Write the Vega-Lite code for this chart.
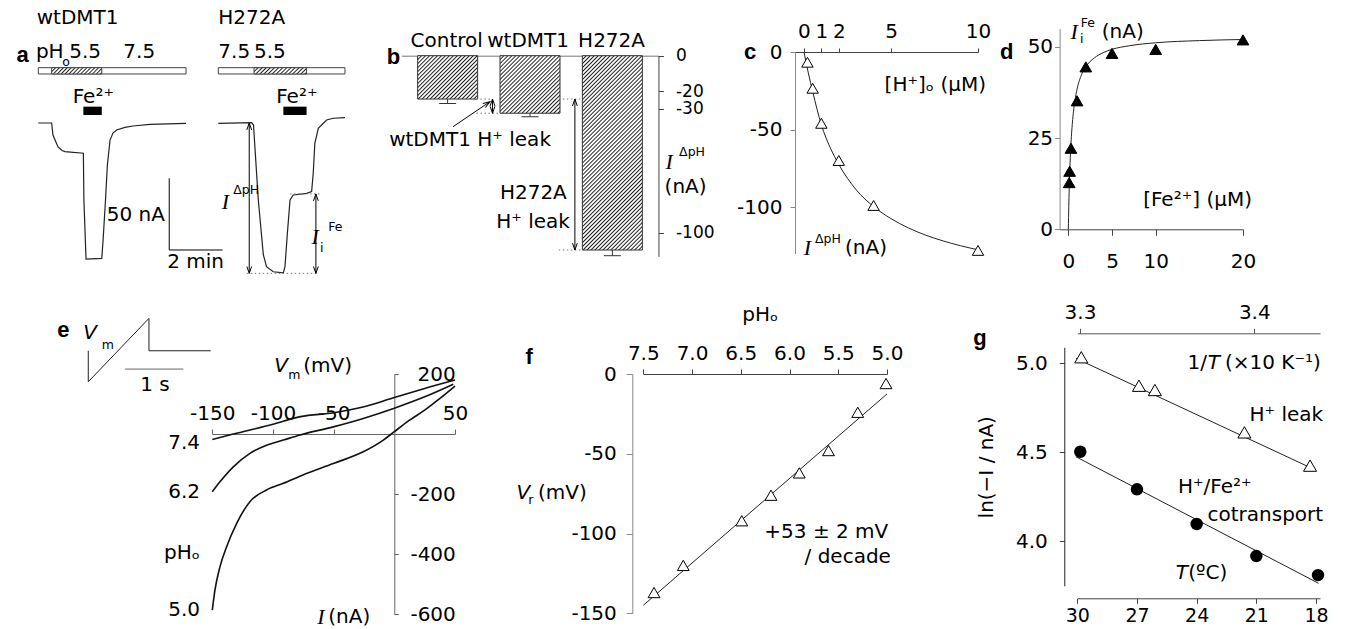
{
"$schema":"https://vega.github.io/schema/vega-lite/v6.json",
"width":1345,"height":629,"autosize":"none","padding":0,"background":"white",
"params":[{"name":"hs","value":[{"offset":0,"color":"#222"},{"offset":0.0055,"color":"#fff"},{"offset":0.0102,"color":"#fff"},{"offset":0.0156,"color":"#222"},{"offset":0.0211,"color":"#fff"},{"offset":0.0258,"color":"#fff"},{"offset":0.0313,"color":"#222"},{"offset":0.0368,"color":"#fff"},{"offset":0.0415,"color":"#fff"},{"offset":0.0469,"color":"#222"},{"offset":0.0524,"color":"#fff"},{"offset":0.0571,"color":"#fff"},{"offset":0.0625,"color":"#222"},{"offset":0.068,"color":"#fff"},{"offset":0.0727,"color":"#fff"},{"offset":0.0781,"color":"#222"},{"offset":0.0836,"color":"#fff"},{"offset":0.0883,"color":"#fff"},{"offset":0.0938,"color":"#222"},{"offset":0.0993,"color":"#fff"},{"offset":0.104,"color":"#fff"},{"offset":0.1094,"color":"#222"},{"offset":0.1149,"color":"#fff"},{"offset":0.1196,"color":"#fff"},{"offset":0.125,"color":"#222"},{"offset":0.1305,"color":"#fff"},{"offset":0.1352,"color":"#fff"},{"offset":0.1406,"color":"#222"},{"offset":0.1461,"color":"#fff"},{"offset":0.1508,"color":"#fff"},{"offset":0.1563,"color":"#222"},{"offset":0.1618,"color":"#fff"},{"offset":0.1665,"color":"#fff"},{"offset":0.1719,"color":"#222"},{"offset":0.1774,"color":"#fff"},{"offset":0.1821,"color":"#fff"},{"offset":0.1875,"color":"#222"},{"offset":0.193,"color":"#fff"},{"offset":0.1977,"color":"#fff"},{"offset":0.2031,"color":"#222"},{"offset":0.2086,"color":"#fff"},{"offset":0.2133,"color":"#fff"},{"offset":0.2188,"color":"#222"},{"offset":0.2243,"color":"#fff"},{"offset":0.229,"color":"#fff"},{"offset":0.2344,"color":"#222"},{"offset":0.2399,"color":"#fff"},{"offset":0.2446,"color":"#fff"},{"offset":0.25,"color":"#222"},{"offset":0.2555,"color":"#fff"},{"offset":0.2602,"color":"#fff"},{"offset":0.2656,"color":"#222"},{"offset":0.2711,"color":"#fff"},{"offset":0.2758,"color":"#fff"},{"offset":0.2813,"color":"#222"},{"offset":0.2868,"color":"#fff"},{"offset":0.2915,"color":"#fff"},{"offset":0.2969,"color":"#222"},{"offset":0.3024,"color":"#fff"},{"offset":0.3071,"color":"#fff"},{"offset":0.3125,"color":"#222"},{"offset":0.318,"color":"#fff"},{"offset":0.3227,"color":"#fff"},{"offset":0.3281,"color":"#222"},{"offset":0.3336,"color":"#fff"},{"offset":0.3383,"color":"#fff"},{"offset":0.3438,"color":"#222"},{"offset":0.3493,"color":"#fff"},{"offset":0.354,"color":"#fff"},{"offset":0.3594,"color":"#222"},{"offset":0.3649,"color":"#fff"},{"offset":0.3696,"color":"#fff"},{"offset":0.375,"color":"#222"},{"offset":0.3805,"color":"#fff"},{"offset":0.3852,"color":"#fff"},{"offset":0.3906,"color":"#222"},{"offset":0.3961,"color":"#fff"},{"offset":0.4008,"color":"#fff"},{"offset":0.4063,"color":"#222"},{"offset":0.4118,"color":"#fff"},{"offset":0.4165,"color":"#fff"},{"offset":0.4219,"color":"#222"},{"offset":0.4274,"color":"#fff"},{"offset":0.4321,"color":"#fff"},{"offset":0.4375,"color":"#222"},{"offset":0.443,"color":"#fff"},{"offset":0.4477,"color":"#fff"},{"offset":0.4531,"color":"#222"},{"offset":0.4586,"color":"#fff"},{"offset":0.4633,"color":"#fff"},{"offset":0.4688,"color":"#222"},{"offset":0.4743,"color":"#fff"},{"offset":0.479,"color":"#fff"},{"offset":0.4844,"color":"#222"},{"offset":0.4899,"color":"#fff"},{"offset":0.4946,"color":"#fff"},{"offset":0.5,"color":"#222"},{"offset":0.5055,"color":"#fff"},{"offset":0.5102,"color":"#fff"},{"offset":0.5156,"color":"#222"},{"offset":0.5211,"color":"#fff"},{"offset":0.5258,"color":"#fff"},{"offset":0.5313,"color":"#222"},{"offset":0.5368,"color":"#fff"},{"offset":0.5415,"color":"#fff"},{"offset":0.5469,"color":"#222"},{"offset":0.5524,"color":"#fff"},{"offset":0.5571,"color":"#fff"},{"offset":0.5625,"color":"#222"},{"offset":0.568,"color":"#fff"},{"offset":0.5727,"color":"#fff"},{"offset":0.5781,"color":"#222"},{"offset":0.5836,"color":"#fff"},{"offset":0.5883,"color":"#fff"},{"offset":0.5938,"color":"#222"},{"offset":0.5993,"color":"#fff"},{"offset":0.604,"color":"#fff"},{"offset":0.6094,"color":"#222"},{"offset":0.6149,"color":"#fff"},{"offset":0.6196,"color":"#fff"},{"offset":0.625,"color":"#222"},{"offset":0.6305,"color":"#fff"},{"offset":0.6352,"color":"#fff"},{"offset":0.6406,"color":"#222"},{"offset":0.6461,"color":"#fff"},{"offset":0.6508,"color":"#fff"},{"offset":0.6563,"color":"#222"},{"offset":0.6618,"color":"#fff"},{"offset":0.6665,"color":"#fff"},{"offset":0.6719,"color":"#222"},{"offset":0.6774,"color":"#fff"},{"offset":0.6821,"color":"#fff"},{"offset":0.6875,"color":"#222"},{"offset":0.693,"color":"#fff"},{"offset":0.6977,"color":"#fff"},{"offset":0.7031,"color":"#222"},{"offset":0.7086,"color":"#fff"},{"offset":0.7133,"color":"#fff"},{"offset":0.7188,"color":"#222"},{"offset":0.7243,"color":"#fff"},{"offset":0.729,"color":"#fff"},{"offset":0.7344,"color":"#222"},{"offset":0.7399,"color":"#fff"},{"offset":0.7446,"color":"#fff"},{"offset":0.75,"color":"#222"},{"offset":0.7555,"color":"#fff"},{"offset":0.7602,"color":"#fff"},{"offset":0.7656,"color":"#222"},{"offset":0.7711,"color":"#fff"},{"offset":0.7758,"color":"#fff"},{"offset":0.7813,"color":"#222"},{"offset":0.7868,"color":"#fff"},{"offset":0.7915,"color":"#fff"},{"offset":0.7969,"color":"#222"},{"offset":0.8024,"color":"#fff"},{"offset":0.8071,"color":"#fff"},{"offset":0.8125,"color":"#222"},{"offset":0.818,"color":"#fff"},{"offset":0.8227,"color":"#fff"},{"offset":0.8281,"color":"#222"},{"offset":0.8336,"color":"#fff"},{"offset":0.8383,"color":"#fff"},{"offset":0.8438,"color":"#222"},{"offset":0.8493,"color":"#fff"},{"offset":0.854,"color":"#fff"},{"offset":0.8594,"color":"#222"},{"offset":0.8649,"color":"#fff"},{"offset":0.8696,"color":"#fff"},{"offset":0.875,"color":"#222"},{"offset":0.8805,"color":"#fff"},{"offset":0.8852,"color":"#fff"},{"offset":0.8906,"color":"#222"},{"offset":0.8961,"color":"#fff"},{"offset":0.9008,"color":"#fff"},{"offset":0.9063,"color":"#222"},{"offset":0.9118,"color":"#fff"},{"offset":0.9165,"color":"#fff"},{"offset":0.9219,"color":"#222"},{"offset":0.9274,"color":"#fff"},{"offset":0.9321,"color":"#fff"},{"offset":0.9375,"color":"#222"},{"offset":0.943,"color":"#fff"},{"offset":0.9477,"color":"#fff"},{"offset":0.9531,"color":"#222"},{"offset":0.9586,"color":"#fff"},{"offset":0.9633,"color":"#fff"},{"offset":0.9688,"color":"#222"},{"offset":0.9743,"color":"#fff"},{"offset":0.979,"color":"#fff"},{"offset":0.9844,"color":"#222"},{"offset":0.9899,"color":"#fff"},{"offset":0.9946,"color":"#fff"},{"offset":1,"color":"#222"}]}],
"config":{
 "view":{"stroke":null},
 "axis":{"grid":false,"labelFont":"DejaVu Sans","labelFontSize":20,"labelColor":"black","domainColor":"#666","tickColor":"#666","labelOverlap":false,"labelFlush":false,"labelBound":false,"tickSize":5,"labelPadding":6,"labelExpr":"replace(datum.label,'−','-')"}
},
"datasets":{
 "aTrace":[{"s":"w","o":1,"t":0,"i":0},{"s":"w","o":2,"t":0.5,"i":0},{"s":"w","o":3,"t":0.55,"i":-8.4},{"s":"w","o":4,"t":0.66,"i":-13.3},{"s":"w","o":5,"t":0.74,"i":-16.7},{"s":"w","o":6,"t":0.89,"i":-19.2},{"s":"w","o":7,"t":1.0,"i":-20.0},{"s":"w","o":8,"t":1.69,"i":-21.1},{"s":"w","o":9,"t":1.71,"i":-53.7},{"s":"w","o":10,"t":1.79,"i":-94.9},{"s":"w","o":11,"t":2.38,"i":-94.4},{"s":"w","o":12,"t":2.43,"i":-81.6},{"s":"w","o":13,"t":2.52,"i":-53.7},{"s":"w","o":14,"t":2.59,"i":-29.3},{"s":"w","o":15,"t":2.69,"i":-11.9},{"s":"w","o":16,"t":2.8,"i":-7.0},{"s":"w","o":17,"t":2.94,"i":-4.9},{"s":"w","o":18,"t":3.25,"i":-3.1},{"s":"w","o":19,"t":3.55,"i":-2.1},{"s":"w","o":20,"t":4.19,"i":-1.0},{"s":"w","o":21,"t":5.54,"i":-0.2},
  {"s":"h","o":1,"t":6.75,"i":-0.2},{"s":"h","o":2,"t":8.0,"i":0.2},{"s":"h","o":3,"t":8.07,"i":-1.4},{"s":"h","o":4,"t":8.25,"i":-53.7},{"s":"h","o":5,"t":8.44,"i":-92.1},{"s":"h","o":6,"t":8.56,"i":-100.3},{"s":"h","o":7,"t":8.81,"i":-103.8},{"s":"h","o":8,"t":9.19,"i":-104.5},{"s":"h","o":9,"t":9.25,"i":-100.3},{"s":"h","o":10,"t":9.34,"i":-77.0},{"s":"h","o":11,"t":9.44,"i":-53.7},{"s":"h","o":12,"t":9.56,"i":-50.2},{"s":"h","o":13,"t":10.06,"i":-49.1},{"s":"h","o":14,"t":10.25,"i":-47.9},{"s":"h","o":15,"t":10.31,"i":-35.1},{"s":"h","o":16,"t":10.37,"i":-14.2},{"s":"h","o":17,"t":10.5,"i":-3.7},{"s":"h","o":18,"t":10.81,"i":2.1},{"s":"h","o":19,"t":11.06,"i":3.3},{"s":"h","o":20,"t":11.5,"i":3.7}],
 "aDot":[{"t":7.815,"i":-104.9,"t2":10.5,"i2":-104.9},{"t":9.44,"i":-49.5,"t2":10.56,"i2":-49.5}],
 "aArr":[{"t":7.91,"i":0,"t2":7.91,"i2":-104.9},{"t":10.41,"i":-49.5,"t2":10.41,"i2":-104.9}],
 "aHead":[{"t":7.91,"i":0,"d":"u"},{"t":7.91,"i":-104.9,"d":"d"},{"t":10.41,"i":-49.5,"d":"u"},{"t":10.41,"i":-104.9,"d":"d"}],
 "aBox":[{"t":0,"i":38.6,"t2":5.54,"i2":34.2},{"t":6.75,"i":38.6,"t2":11.5,"i2":34.2}],
 "aHatch":[{"t":0.5,"i":38.6,"t2":2.38,"i2":34.2},{"t":8.09,"i":38.6,"t2":10.06,"i2":34.2}],
 "aFe":[{"t":1.69,"i":11.4,"t2":2.38,"i2":5.6},{"t":9.19,"i":11.4,"t2":10.06,"i2":5.6}],
 "aScale":[{"t":4.91,"i":-38.6,"t2":4.91,"i2":-88.6},{"t":4.91,"i":-88.6,"t2":6.91,"i2":-88.6}],
 "aTxt":[{"t":-0.06,"i":73,"s":"wtDMT1","k":"nl"},{"t":6.75,"i":73,"s":"H272A","k":"nl"},{"t":-0.09,"i":49.8,"s":"pH","k":"nl"},{"t":0.9,"i":42.8,"s":"o","k":"sl"},{"t":1.16,"i":49.8,"s":"5.5","k":"nl"},{"t":3.19,"i":49.8,"s":"7.5","k":"nl"},{"t":6.75,"i":49.8,"s":"7.5","k":"nl"},{"t":8.09,"i":49.8,"s":"5.5","k":"nl"},{"t":1.29,"i":18.4,"s":"Fe²⁺","k":"nl"},{"t":8.92,"i":18.4,"s":"Fe²⁺","k":"nl"},{"t":4.75,"i":-64.2,"s":"50 nA","k":"nr"},{"t":5.9,"i":-97,"s":"2 min","k":"nc"},{"t":7.02,"i":-54.9,"s":"I","k":"is"},{"t":10.38,"i":-79.3,"s":"I","k":"is"},{"t":7.31,"i":-46.8,"s":"ΔpH","k":"sl"},{"t":10.87,"i":-72.4,"s":"Fe","k":"sl"},{"t":10.56,"i":-87.4,"s":"i","k":"sl"},{"t":-0.59,"i":47.4,"s":"a","k":"bd"}],
 "bBar":[{"c":"C","x":0.5,"y":-24.5,"e":-27},{"c":"W","x":1.5,"y":-32.5,"e":-34.5},{"c":"H","x":2.5,"y":-109.8,"e":-113}],
 "bCap":[{"x":0.5,"y":-27},{"x":1.5,"y":-34.5},{"x":2.5,"y":-113}],
 "bDot":[{"x":0.85,"y":-24.5,"x2":1.05,"y2":-24.5},{"x":0.85,"y":-32.5,"x2":1.15,"y2":-32.5},{"x":1.85,"y":-24.5,"x2":2.15,"y2":-24.5},{"x":1.85,"y":-109.8,"x2":2.15,"y2":-109.8}],
 "bLine":[{"x":1.045,"y":-24.5,"x2":1.045,"y2":-32.5},{"x":2.045,"y":-24.5,"x2":2.045,"y2":-109.8},{"x":0.567,"y":-40.1,"x2":1.013,"y2":-26}],
 "bHead":[{"x":1.045,"y":-24.5,"d":"u"},{"x":1.045,"y":-32.5,"d":"d"},{"x":2.045,"y":-24.5,"d":"u"},{"x":2.045,"y":-109.8,"d":"d"}],
 "bLead":[{"x":1.013,"y":-26}],
 "bTxt":[{"x":0.488,"y":8.1,"s":"Control","k":"nc"},{"x":1.477,"y":8.1,"s":"wtDMT1","k":"nc"},{"x":2.49,"y":8.1,"s":"H272A","k":"nc"},{"x":-0.21,"y":-47.6,"s":"wtDMT1 H⁺ leak","k":"nl"},{"x":1.09,"y":-93.8,"s":"H⁺ leak","k":"nl"},{"x":3.134,"y":-74,"s":"(nA)","k":"nl"},{"x":1.947,"y":-77.7,"s":"H272A","k":"nr"},{"x":3.19,"y":-59.9,"s":"I","k":"is"},{"x":3.31,"y":-54.2,"s":"ΔpH","k":"sl"},{"x":-0.157,"y":-0.7,"s":"b","k":"bd"}],
 "cCurve":[{"x":0,"y":0},{"x":0.25,"y":-13.5},{"x":0.5,"y":-25.5},{"x":1,"y":-47},{"x":1.5,"y":-61.5},{"x":2,"y":-72.5},{"x":3,"y":-88.9},{"x":4,"y":-99.7},{"x":5,"y":-107.5},{"x":6,"y":-113.5},{"x":7,"y":-118.2},{"x":8,"y":-121.9},{"x":9,"y":-125},{"x":10,"y":-127.6}],
 "cPts":[{"x":0.2,"y":-6.6},{"x":0.5,"y":-23.4},{"x":1,"y":-46},{"x":2,"y":-70},{"x":4,"y":-99},{"x":10,"y":-128}],
 "cTxt":[{"x":-3.1,"y":0,"s":"c","k":"bd"},{"x":10.46,"y":-21.3,"s":"[H⁺]ₒ (µM)","k":"nr"},{"x":0.2,"y":-126.6,"s":"I","k":"is"},{"x":0.63,"y":-120.8,"s":"ΔpH","k":"sl"},{"x":2.36,"y":-126.6,"s":"(nA)","k":"nl"}],
 "dCurve":[{"x":0,"y":0},{"x":0.05,"y":6.2},{"x":0.1,"y":11},{"x":0.2,"y":18.3},{"x":0.3,"y":23.4},{"x":0.5,"y":30.1},{"x":0.75,"y":35.2},{"x":1,"y":38.4},{"x":1.5,"y":42.3},{"x":2,"y":44.5},{"x":3,"y":47},{"x":4,"y":48.4},{"x":5,"y":49.3},{"x":7,"y":50.3},{"x":10,"y":51.1},{"x":15,"y":51.7},{"x":20,"y":52}],
 "dPts":[{"x":0.1,"y":12.8},{"x":0.15,"y":15.9},{"x":0.3,"y":22.2},{"x":1,"y":35.2},{"x":2,"y":44.5},{"x":5,"y":48.2},{"x":10,"y":49.3},{"x":20,"y":51.9}],
 "dTxt":[{"x":-7.06,"y":48.7,"s":"d","k":"bd"},{"x":0.68,"y":54.1,"s":"I","k":"is"},{"x":1.34,"y":52.05,"s":"i","k":"sl"},{"x":1.42,"y":56.6,"s":"Fe","k":"sl"},{"x":3.83,"y":54.1,"s":"(nA)","k":"nl"},{"x":21.03,"y":8.0,"s":"[Fe²⁺] (µM)","k":"nr"}],
 "eCurve":[{"p":"7.4","x":-150,"y":-18},{"p":"7.4","x":-132.7,"y":0},{"p":"7.4","x":-100,"y":33},{"p":"7.4","x":-77.4,"y":58},{"p":"7.4","x":-50,"y":71},{"p":"7.4","x":-25,"y":91},{"p":"7.4","x":0,"y":122},{"p":"7.4","x":25,"y":152},{"p":"7.4","x":50,"y":180},
  {"p":"6.2","x":-150,"y":-192},{"p":"6.2","x":-143.7,"y":-159},{"p":"6.2","x":-132.7,"y":-109},{"p":"6.2","x":-119,"y":-64},{"p":"6.2","x":-105.3,"y":-37},{"p":"6.2","x":-91.5,"y":-20},{"p":"6.2","x":-77.7,"y":-3},{"p":"6.2","x":-50.3,"y":24},{"p":"6.2","x":-25.6,"y":52},{"p":"6.2","x":0,"y":86},{"p":"6.2","x":25,"y":124},{"p":"6.2","x":48.6,"y":166},
  {"p":"5.0","x":-150,"y":-586},{"p":"5.0","x":-147.8,"y":-519},{"p":"5.0","x":-143.7,"y":-442},{"p":"5.0","x":-138.2,"y":-375},{"p":"5.0","x":-129.9,"y":-297},{"p":"5.0","x":-119,"y":-225},{"p":"5.0","x":-105.3,"y":-186},{"p":"5.0","x":-91.5,"y":-164},{"p":"5.0","x":-75.3,"y":-136},{"p":"5.0","x":-50.3,"y":-98},{"p":"5.0","x":-25.6,"y":-59},{"p":"5.0","x":-9.1,"y":-20},{"p":"5.0","x":0,"y":8},{"p":"5.0","x":12.9,"y":47},{"p":"5.0","x":25,"y":80},{"p":"5.0","x":37.6,"y":119},{"p":"5.0","x":50,"y":160}],
 "eInset":[{"o":1,"x":-252.2,"y":277.3},{"o":2,"x":-252.2,"y":174.1},{"o":3,"x":-202.2,"y":385.2},{"o":4,"x":-202.2,"y":277.3},{"o":5,"x":-151.3,"y":277.3}],
 "eBar":[{"x":-221.9,"y":216.4,"x2":-173.9,"y2":216.4}],
 "eTxt":[{"x":-160.1,"y":-31,"s":"7.4","k":"nr"},{"x":-160.1,"y":-192,"s":"6.2","k":"nr"},{"x":-160.1,"y":-397,"s":"pHₒ","k":"nr"},{"x":-160.1,"y":-586,"s":"5.0","k":"nr"},{"x":-197.2,"y":163,"s":"1 s","k":"nc"},{"x":-93.4,"y":226,"s":"V","k":"iv"},{"x":-250.8,"y":335,"s":"V","k":"iv"},{"x":-60.4,"y":-608,"s":"I","k":"is"},{"x":-87.4,"y":196,"s":"m","k":"sl"},{"x":-241.1,"y":298,"s":"m","k":"sl"},{"x":-75,"y":226,"s":"(mV)","k":"nl"},{"x":-54.4,"y":-608,"s":"(nA)","k":"nl"},{"x":-272.8,"y":346,"s":"e","k":"bd"}],
 "fLine":[{"x":7.5,"y":-145},{"x":5.0,"y":-12.5}],
 "fPts":[{"x":7.39,"y":-137},{"x":7.09,"y":-120},{"x":6.49,"y":-92},{"x":6.19,"y":-76},{"x":5.9,"y":-62},{"x":5.6,"y":-48},{"x":5.3,"y":-24},{"x":5.01,"y":-6}],
 "fTxt":[{"x":8.67,"y":10.8,"s":"f","k":"bd"},{"x":6.3,"y":37,"s":"pHₒ","k":"nc"},{"x":8.73,"y":-74.8,"s":"V","k":"iv"},{"x":8.68,"y":-79,"s":"r","k":"sl"},{"x":8.58,"y":-74.8,"s":"(mV)","k":"nl"},{"x":4.987,"y":-98.9,"s":"+53 ± 2 mV","k":"nr"},{"x":4.96,"y":-114.5,"s":"/ decade","k":"nr"}],
 "gLine":[{"s":"a","x":30.07,"y":5.028},{"s":"a","x":18.38,"y":4.419},{"s":"b","x":30.07,"y":4.475},{"s":"b","x":17.87,"y":3.764}],
 "gTri":[{"x":29.8,"y":5.034},{"x":26.9,"y":4.874},{"x":26.1,"y":4.85},{"x":21.6,"y":4.612},{"x":18.3,"y":4.425}],
 "gCir":[{"x":29.85,"y":4.503},{"x":27.0,"y":4.292},{"x":24.0,"y":4.097},{"x":21.0,"y":3.917},{"x":17.9,"y":3.81}],
 "gTop":[{"v":3.3},{"v":3.4}],
 "gTxt":[{"x":34.89,"y":5.14,"s":"g","k":"bd"},{"x":23.48,"y":5.0,"s":"1/","k":"nr"},{"x":23.13,"y":5.0,"s":"T","k":"iv"},{"x":22.58,"y":5.0,"s":"(×10 K⁻¹)","k":"nl"},{"x":17.64,"y":4.71,"s":"H⁺ leak","k":"nr"},{"x":21.24,"y":4.303,"s":"H⁺/Fe²⁺","k":"nr"},{"x":17.64,"y":4.148,"s":"cotransport","k":"nr"},{"x":24.75,"y":3.82,"s":"T","k":"iv"},{"x":24.42,"y":3.82,"s":"(ºC)","k":"nl"},{"x":34.55,"y":4.416,"s":"ln(−I / nA)","k":"rot"}]
},
"layer":[
 {
  "encoding":{
   "x":{"field":"t","type":"quantitative","title":null,"scale":{"domain":[0,12],"range":[38.3,358.3],"nice":false,"zero":false},"axis":null},
   "y":{"field":"i","type":"quantitative","title":null,"scale":{"domain":[-120,60],"range":[295,37],"nice":false,"zero":false},"axis":null}
  },
  "layer":[
   {"data":{"name":"aBox"},"mark":{"type":"rect","fill":"white","stroke":"#444","strokeWidth":1},"encoding":{"x2":{"field":"t2"},"y2":{"field":"i2"}}},
   {"data":{"name":"aHatch"},"mark":{"type":"rect","stroke":"#444","strokeWidth":1,"fill":{"expr":"{gradient:'linear',x1:0,y1:0,x2:4.92,y2:0.607,stops:hs}"}},"encoding":{"x2":{"field":"t2"},"y2":{"field":"i2"}}},
   {"data":{"name":"aFe"},"mark":{"type":"rect","fill":"black"},"encoding":{"x2":{"field":"t2"},"y2":{"field":"i2"}}},
   {"data":{"name":"aTrace"},"mark":{"type":"line","stroke":"#222","strokeWidth":1.2},"encoding":{"detail":{"field":"s"},"order":{"field":"o","type":"quantitative"}}},
   {"data":{"name":"aDot"},"mark":{"type":"rule","stroke":"#777","strokeDash":[1.5,2.5]},"encoding":{"x2":{"field":"t2"},"y2":{"field":"i2"}}},
   {"data":{"name":"aArr"},"mark":{"type":"rule","stroke":"black"},"encoding":{"x2":{"field":"t2"},"y2":{"field":"i2"}}},
   {"data":{"name":"aHead"},"mark":{"type":"point","filled":false,"color":"black","stroke":"black","strokeWidth":1,"size":36,"opacity":1},"encoding":{"shape":{"field":"d","type":"nominal","scale":{"domain":["u","d"],"range":["M-0.8,2.3L0,0L0.8,2.3","M-0.8,-2.3L0,0L0.8,-2.3"]},"legend":null}}},
   {"data":{"name":"aScale"},"mark":{"type":"rule","stroke":"black"},"encoding":{"x2":{"field":"t2"},"y2":{"field":"i2"}}},
   {"data":{"name":"aTxt"},"transform":[{"filter":"datum.k=='nl'"}],"mark":{"type":"text","align":"left","font":"DejaVu Sans","fontSize":20,"fill":"black"},"encoding":{"text":{"field":"s"}}},
   {"data":{"name":"aTxt"},"transform":[{"filter":"datum.k=='nr'"}],"mark":{"type":"text","align":"right","font":"DejaVu Sans","fontSize":20,"fill":"black"},"encoding":{"text":{"field":"s"}}},
   {"data":{"name":"aTxt"},"transform":[{"filter":"datum.k=='nc'"}],"mark":{"type":"text","align":"center","font":"DejaVu Sans","fontSize":20,"fill":"black"},"encoding":{"text":{"field":"s"}}},
   {"data":{"name":"aTxt"},"transform":[{"filter":"datum.k=='sl'"}],"mark":{"type":"text","align":"left","font":"DejaVu Sans","fontSize":12.5,"fill":"black"},"encoding":{"text":{"field":"s"}}},
   {"data":{"name":"aTxt"},"transform":[{"filter":"datum.k=='is'"}],"mark":{"type":"text","align":"center","font":"Liberation Serif","fontStyle":"italic","fontSize":22,"fill":"black"},"encoding":{"text":{"field":"s"}}},
   {"data":{"name":"aTxt"},"transform":[{"filter":"datum.k=='bd'"}],"mark":{"type":"text","align":"center","font":"Liberation Sans","fontWeight":"bold","fontSize":22,"fill":"black"},"encoding":{"text":{"field":"s"}}}
  ]
 },
 {
  "encoding":{
   "x":{"field":"x","type":"quantitative","title":null,"scale":{"domain":[0,3],"range":[401.45,658.55],"nice":false,"zero":false},"axis":{"orient":"top","offset":-55.7,"labels":false,"ticks":false,"domainColor":"#777"}},
   "y":{"field":"y","type":"quantitative","title":null,"scale":{"domain":[-113.4,0],"range":[256.4,55.7],"nice":false,"zero":false},"axis":{"orient":"right","offset":-686.55,"values":[0,-20,-30,-100],"tickSize":5,"labelPadding":12,"labelAlign":"left","labelFontSize":17,"domainColor":"#444","tickColor":"#444"}}
  },
  "layer":[
   {"data":{"name":"bBar"},"transform":[{"filter":"datum.c=='C'"}],"mark":{"type":"bar","width":60,"stroke":"#333","strokeWidth":1,"fill":{"expr":"{gradient:'linear',x1:0,y1:0,x2:2.79,y2:2.013,stops:hs}"}},"encoding":{"y2":{"datum":0}}},
   {"data":{"name":"bBar"},"transform":[{"filter":"datum.c=='W'"}],"mark":{"type":"bar","width":60,"stroke":"#333","strokeWidth":1,"fill":{"expr":"{gradient:'linear',x1:0,y1:0,x2:2.208,y2:2.12,stops:hs}"}},"encoding":{"y2":{"datum":0}}},
   {"data":{"name":"bBar"},"transform":[{"filter":"datum.c=='H'"}],"mark":{"type":"bar","width":60,"stroke":"#333","strokeWidth":1,"fill":{"expr":"{gradient:'linear',x1:0,y1:0,x2:0.3694,y2:1.196,stops:hs}"}},"encoding":{"y2":{"datum":0}}},
   {"data":{"name":"bBar"},"mark":{"type":"rule","stroke":"#333"},"encoding":{"y2":{"field":"e"}}},
   {"data":{"name":"bCap"},"mark":{"type":"tick","orient":"horizontal","size":17,"thickness":1,"color":"#333","opacity":1}},
   {"data":{"name":"bDot"},"mark":{"type":"rule","stroke":"#777","strokeDash":[1.5,2.5]},"encoding":{"x2":{"field":"x2"},"y2":{"field":"y2"}}},
   {"data":{"name":"bLine"},"mark":{"type":"rule","stroke":"black"},"encoding":{"x2":{"field":"x2"},"y2":{"field":"y2"}}},
   {"data":{"name":"bHead"},"mark":{"type":"point","filled":false,"color":"black","stroke":"black","strokeWidth":1,"size":36,"opacity":1},"encoding":{"shape":{"field":"d","type":"nominal","scale":{"domain":["u","d"],"range":["M-0.8,2.3L0,0L0.8,2.3","M-0.8,-2.3L0,0L0.8,-2.3"]},"legend":null}}},
   {"data":{"name":"bLead"},"mark":{"type":"point","shape":"M-0.8,2.3L0,0L0.8,2.3","angle":57,"filled":false,"color":"black","stroke":"black","strokeWidth":1,"size":36,"opacity":1}},
   {"data":{"name":"bTxt"},"transform":[{"filter":"datum.k=='nl'"}],"mark":{"type":"text","align":"left","font":"DejaVu Sans","fontSize":20,"fill":"black"},"encoding":{"text":{"field":"s"}}},
   {"data":{"name":"bTxt"},"transform":[{"filter":"datum.k=='nr'"}],"mark":{"type":"text","align":"right","font":"DejaVu Sans","fontSize":20,"fill":"black"},"encoding":{"text":{"field":"s"}}},
   {"data":{"name":"bTxt"},"transform":[{"filter":"datum.k=='nc'"}],"mark":{"type":"text","align":"center","font":"DejaVu Sans","fontSize":20,"fill":"black"},"encoding":{"text":{"field":"s"}}},
   {"data":{"name":"bTxt"},"transform":[{"filter":"datum.k=='sl'"}],"mark":{"type":"text","align":"left","font":"DejaVu Sans","fontSize":12.5,"fill":"black"},"encoding":{"text":{"field":"s"}}},
   {"data":{"name":"bTxt"},"transform":[{"filter":"datum.k=='is'"}],"mark":{"type":"text","align":"center","font":"Liberation Serif","fontStyle":"italic","fontSize":22,"fill":"black"},"encoding":{"text":{"field":"s"}}},
   {"data":{"name":"bTxt"},"transform":[{"filter":"datum.k=='bd'"}],"mark":{"type":"text","align":"center","font":"Liberation Sans","fontWeight":"bold","fontSize":22,"fill":"black"},"encoding":{"text":{"field":"s"}}}
  ]
 },
 {
  "encoding":{
   "x":{"field":"x","type":"quantitative","title":null,"scale":{"domain":[-0.55,10],"range":[794.4,978],"nice":false,"zero":false},"axis":{"orient":"top","offset":-52,"values":[0,1,2,5,10],"tickSize":4,"labelPadding":7,"domainColor":"#444","tickColor":"#444"}},
   "y":{"field":"y","type":"quantitative","title":null,"scale":{"domain":[-130,0],"range":[253.5,52],"nice":false,"zero":false},"axis":{"orient":"left","offset":-795,"values":[0,-50,-100],"tickSize":5,"labelPadding":8,"domainColor":"#888","tickColor":"#888"}}
  },
  "layer":[
   {"data":{"name":"cCurve"},"mark":{"type":"line","stroke":"#222","strokeWidth":1,"interpolate":"monotone"}},
   {"data":{"name":"cPts"},"mark":{"type":"point","shape":"triangle-up","size":130,"filled":true,"fill":"white","stroke":"black","strokeWidth":1,"opacity":1}},
   {"data":{"name":"cTxt"},"transform":[{"filter":"datum.k=='nl'"}],"mark":{"type":"text","align":"left","font":"DejaVu Sans","fontSize":20,"fill":"black"},"encoding":{"text":{"field":"s"}}},
   {"data":{"name":"cTxt"},"transform":[{"filter":"datum.k=='nr'"}],"mark":{"type":"text","align":"right","font":"DejaVu Sans","fontSize":20,"fill":"black"},"encoding":{"text":{"field":"s"}}},
   {"data":{"name":"cTxt"},"transform":[{"filter":"datum.k=='sl'"}],"mark":{"type":"text","align":"left","font":"DejaVu Sans","fontSize":12.5,"fill":"black"},"encoding":{"text":{"field":"s"}}},
   {"data":{"name":"cTxt"},"transform":[{"filter":"datum.k=='is'"}],"mark":{"type":"text","align":"center","font":"Liberation Serif","fontStyle":"italic","fontSize":22,"fill":"black"},"encoding":{"text":{"field":"s"}}},
   {"data":{"name":"cTxt"},"transform":[{"filter":"datum.k=='bd'"}],"mark":{"type":"text","align":"center","font":"Liberation Sans","fontWeight":"bold","fontSize":22,"fill":"black"},"encoding":{"text":{"field":"s"}}}
  ]
 },
 {
  "encoding":{
   "x":{"field":"x","type":"quantitative","title":null,"scale":{"domain":[-1,20],"range":[1059.6,1243],"nice":false,"zero":false},"axis":{"orient":"bottom","offset":-399.7,"values":[0,5,10,20],"tickSize":6,"labelPadding":16,"domainColor":"#444","tickColor":"#444"}},
   "y":{"field":"y","type":"quantitative","title":null,"scale":{"domain":[0,55],"range":[229.3,28.55],"nice":false,"zero":false},"axis":{"orient":"left","offset":-1059.6,"values":[0,25,50],"tickSize":5,"labelPadding":2,"domainColor":"#888","tickColor":"#888"}}
  },
  "layer":[
   {"data":{"name":"dCurve"},"mark":{"type":"line","stroke":"#222","strokeWidth":1,"interpolate":"monotone"}},
   {"data":{"name":"dPts"},"mark":{"type":"point","shape":"triangle-up","size":137,"filled":true,"fill":"black","stroke":"black","strokeWidth":1,"opacity":1}},
   {"data":{"name":"dTxt"},"transform":[{"filter":"datum.k=='nl'"}],"mark":{"type":"text","align":"left","font":"DejaVu Sans","fontSize":20,"fill":"black"},"encoding":{"text":{"field":"s"}}},
   {"data":{"name":"dTxt"},"transform":[{"filter":"datum.k=='nr'"}],"mark":{"type":"text","align":"right","font":"DejaVu Sans","fontSize":20,"fill":"black"},"encoding":{"text":{"field":"s"}}},
   {"data":{"name":"dTxt"},"transform":[{"filter":"datum.k=='sl'"}],"mark":{"type":"text","align":"left","font":"DejaVu Sans","fontSize":12.5,"fill":"black"},"encoding":{"text":{"field":"s"}}},
   {"data":{"name":"dTxt"},"transform":[{"filter":"datum.k=='is'"}],"mark":{"type":"text","align":"center","font":"Liberation Serif","fontStyle":"italic","fontSize":22,"fill":"black"},"encoding":{"text":{"field":"s"}}},
   {"data":{"name":"dTxt"},"transform":[{"filter":"datum.k=='bd'"}],"mark":{"type":"text","align":"center","font":"Liberation Sans","fontWeight":"bold","fontSize":22,"fill":"black"},"encoding":{"text":{"field":"s"}}}
  ]
 },
 {
  "encoding":{
   "x":{"field":"x","type":"quantitative","title":null,"scale":{"domain":[-150,50],"range":[212.3,455],"nice":false,"zero":false},"axis":{"orient":"top","offset":-434,"values":[-150,-100,-50,50],"tickSize":5,"labelPadding":6}},
   "y":{"field":"y","type":"quantitative","title":null,"scale":{"domain":[-600,200],"range":[614.3,374],"nice":false,"zero":false},"axis":{"orient":"right","offset":-950.7,"values":[200,-200,-400,-600],"tickSize":4,"labelPadding":57,"labelAlign":"right"}}
  },
  "layer":[
   {"data":{"name":"eCurve"},"mark":{"type":"line","stroke":"#111","strokeWidth":1.6,"interpolate":"monotone"},"encoding":{"detail":{"field":"p"}}},
   {"data":{"name":"eInset"},"mark":{"type":"line","stroke":"#222","strokeWidth":1},"encoding":{"order":{"field":"o","type":"quantitative"}}},
   {"data":{"name":"eBar"},"mark":{"type":"rule","stroke":"#666"},"encoding":{"x2":{"field":"x2"},"y2":{"field":"y2"}}},
   {"data":{"name":"eTxt"},"transform":[{"filter":"datum.k=='nl'"}],"mark":{"type":"text","align":"left","font":"DejaVu Sans","fontSize":20,"fill":"black"},"encoding":{"text":{"field":"s"}}},
   {"data":{"name":"eTxt"},"transform":[{"filter":"datum.k=='nr'"}],"mark":{"type":"text","align":"right","font":"DejaVu Sans","fontSize":20,"fill":"black"},"encoding":{"text":{"field":"s"}}},
   {"data":{"name":"eTxt"},"transform":[{"filter":"datum.k=='nc'"}],"mark":{"type":"text","align":"center","font":"DejaVu Sans","fontSize":20,"fill":"black"},"encoding":{"text":{"field":"s"}}},
   {"data":{"name":"eTxt"},"transform":[{"filter":"datum.k=='sl'"}],"mark":{"type":"text","align":"left","font":"DejaVu Sans","fontSize":12.5,"fill":"black"},"encoding":{"text":{"field":"s"}}},
   {"data":{"name":"eTxt"},"transform":[{"filter":"datum.k=='is'"}],"mark":{"type":"text","align":"center","font":"Liberation Serif","fontStyle":"italic","fontSize":22,"fill":"black"},"encoding":{"text":{"field":"s"}}},
   {"data":{"name":"eTxt"},"transform":[{"filter":"datum.k=='iv'"}],"mark":{"type":"text","align":"center","font":"DejaVu Sans","fontStyle":"italic","fontSize":20,"fill":"black"},"encoding":{"text":{"field":"s"}}},
   {"data":{"name":"eTxt"},"transform":[{"filter":"datum.k=='bd'"}],"mark":{"type":"text","align":"center","font":"Liberation Sans","fontWeight":"bold","fontSize":22,"fill":"black"},"encoding":{"text":{"field":"s"}}}
  ]
 },
 {
  "encoding":{
   "x":{"field":"x","type":"quantitative","title":null,"scale":{"domain":[7.5,5.0],"range":[643.3,887],"nice":false,"zero":false},"axis":{"orient":"top","offset":-374,"values":[7.5,7,6.5,6,5.5,5],"format":".1f","tickSize":5,"labelPadding":6,"domainColor":"#444","tickColor":"#444"}},
   "y":{"field":"y","type":"quantitative","title":null,"scale":{"domain":[-150,0],"range":[613.3,374],"nice":false,"zero":false},"axis":{"orient":"left","offset":-632.3,"values":[0,-50,-100,-150],"tickSize":6,"labelPadding":10,"domainColor":"#888","tickColor":"#888"}}
  },
  "layer":[
   {"data":{"name":"fLine"},"mark":{"type":"line","stroke":"#222","strokeWidth":1}},
   {"data":{"name":"fPts"},"mark":{"type":"point","shape":"triangle-up","size":140,"filled":true,"fill":"white","stroke":"black","strokeWidth":1,"opacity":1}},
   {"data":{"name":"fTxt"},"transform":[{"filter":"datum.k=='nl'"}],"mark":{"type":"text","align":"left","font":"DejaVu Sans","fontSize":20,"fill":"black"},"encoding":{"text":{"field":"s"}}},
   {"data":{"name":"fTxt"},"transform":[{"filter":"datum.k=='nr'"}],"mark":{"type":"text","align":"right","font":"DejaVu Sans","fontSize":20,"fill":"black"},"encoding":{"text":{"field":"s"}}},
   {"data":{"name":"fTxt"},"transform":[{"filter":"datum.k=='nc'"}],"mark":{"type":"text","align":"center","font":"DejaVu Sans","fontSize":20,"fill":"black"},"encoding":{"text":{"field":"s"}}},
   {"data":{"name":"fTxt"},"transform":[{"filter":"datum.k=='sl'"}],"mark":{"type":"text","align":"left","font":"DejaVu Sans","fontSize":12.5,"fill":"black"},"encoding":{"text":{"field":"s"}}},
   {"data":{"name":"fTxt"},"transform":[{"filter":"datum.k=='iv'"}],"mark":{"type":"text","align":"center","font":"DejaVu Sans","fontStyle":"italic","fontSize":20,"fill":"black"},"encoding":{"text":{"field":"s"}}},
   {"data":{"name":"fTxt"},"transform":[{"filter":"datum.k=='bd'"}],"mark":{"type":"text","align":"center","font":"Liberation Sans","fontWeight":"bold","fontSize":22,"fill":"black"},"encoding":{"text":{"field":"s"}}}
  ]
 },
 {
  "layer":[
   {
    "encoding":{
     "x":{"field":"x","type":"quantitative","title":null,"scale":{"domain":[30,17.8],"range":[1077.3,1320],"nice":false,"zero":false},"axis":{"orient":"bottom","offset":-30.7,"values":[30,27,24,21,18],"tickSize":5,"labelPadding":3,"labelFontSize":19,"domainColor":"#444","tickColor":"#444"}},
     "y":{"field":"y","type":"quantitative","title":null,"scale":{"domain":[3.75,5.09],"range":[585.8,347.3],"nice":false,"zero":false},"axis":{"orient":"left","offset":-1064.3,"values":[5,4.5,4],"format":".1f","tickSize":5,"labelPadding":12,"domainColor":"#222","tickColor":"#444"}}
    },
    "layer":[
     {"data":{"name":"gLine"},"mark":{"type":"line","stroke":"#222","strokeWidth":1},"encoding":{"detail":{"field":"s"}}},
     {"data":{"name":"gTri"},"mark":{"type":"point","shape":"triangle-up","size":170,"filled":true,"fill":"white","stroke":"black","strokeWidth":1,"opacity":1}},
     {"data":{"name":"gCir"},"mark":{"type":"point","shape":"circle","size":110,"filled":true,"fill":"black","stroke":"black","opacity":1}},
     {"data":{"name":"gTxt"},"transform":[{"filter":"datum.k=='nl'"}],"mark":{"type":"text","align":"left","font":"DejaVu Sans","fontSize":20,"fill":"black"},"encoding":{"text":{"field":"s"}}},
     {"data":{"name":"gTxt"},"transform":[{"filter":"datum.k=='nr'"}],"mark":{"type":"text","align":"right","font":"DejaVu Sans","fontSize":20,"fill":"black"},"encoding":{"text":{"field":"s"}}},
     {"data":{"name":"gTxt"},"transform":[{"filter":"datum.k=='iv'"}],"mark":{"type":"text","align":"center","font":"DejaVu Sans","fontStyle":"italic","fontSize":20,"fill":"black"},"encoding":{"text":{"field":"s"}}},
     {"data":{"name":"gTxt"},"transform":[{"filter":"datum.k=='rot'"}],"mark":{"type":"text","align":"center","angle":270,"font":"DejaVu Sans","fontSize":20,"fill":"black"},"encoding":{"text":{"field":"s"}}},
     {"data":{"name":"gTxt"},"transform":[{"filter":"datum.k=='bd'"}],"mark":{"type":"text","align":"center","font":"Liberation Sans","fontWeight":"bold","fontSize":22,"fill":"black"},"encoding":{"text":{"field":"s"}}}
    ]
   },
   {
    "data":{"name":"gTop"},
    "mark":{"type":"point","opacity":0},
    "encoding":{"x":{"field":"v","type":"quantitative","title":null,"scale":{"domain":[3.29845,3.4377],"range":[1077.3,1320],"nice":false,"zero":false},"axis":{"orient":"top","offset":-333.3,"values":[3.3,3.4],"format":".1f","tickSize":5,"labelPadding":6,"domainColor":"#555","tickColor":"#555"}}}
   }
  ],
  "resolve":{"scale":{"x":"independent"}}
 }
],
"resolve":{"scale":{"x":"independent","y":"independent","shape":"independent"}}
}
